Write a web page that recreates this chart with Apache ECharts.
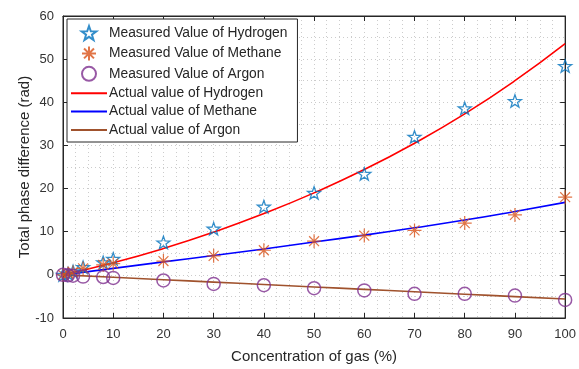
<!DOCTYPE html>
<html>
<head>
<meta charset="utf-8">
<script src="https://cdn.jsdelivr.net/npm/echarts@6/dist/echarts.min.js"></script>
<style>
  html, body { margin: 0; padding: 0; background: #fff; }
  #chart { width: 579px; height: 369px; }
</style>
</head>
<body>
<div id="chart"></div>
<script>
// concentrations where gas was measured (%)
const xMeasured = [0, 1, 2, 4, 8, 10, 20, 30, 40, 50, 60, 70, 80, 90, 100];
const hydrogenMeasured = [0, 0.3, 0.8, 1.8, 2.9, 3.7, 7.5, 10.7, 15.8, 19.0, 23.4, 32.0, 38.6, 40.3, 48.4];
const methaneMeasured = [0, 0.3, 0.6, 1.5, 2.3, 2.6, 3.2, 4.4, 5.7, 7.8, 9.1, 10.3, 12.0, 13.9, 18.0];
const argonMeasured = [0, -0.1, -0.2, -0.4, -0.5, -0.7, -1.3, -2.1, -2.4, -3.1, -3.6, -4.4, -4.4, -4.8, -5.8];

// theoretical curves
const xActual = [0, 10, 20, 30, 40, 50, 60, 70, 80, 90, 100];
const hydrogenActual = [0, 2.8, 6.1, 9.9, 14.2, 19.0, 24.4, 30.5, 37.3, 45.0, 53.6];
const methaneActual = [0, 1.5, 3.0, 4.5, 6.0, 7.6, 9.2, 10.9, 12.7, 14.7, 16.8];
const argonActual = [0, -0.56, -1.12, -1.68, -2.24, -2.8, -3.36, -3.92, -4.48, -5.04, -5.6];

const starPath = 'path://M0,-10L2.35,-3.24L9.51,-3.09L3.8,1.24L5.88,8.09L0,4L-5.88,8.09L-3.8,1.24L-9.51,-3.09L-2.35,-3.24Z';
const asteriskPath = 'path://M0,-10L0,10M-10,0L10,0M-7.1,-7.1L7.1,7.1M-7.1,7.1L7.1,-7.1';
const lineIcon = 'path://M0,0L36,0L36,2L0,2Z';

function pairs(xs, ys) {
    return xs.map((x, i) => [x, ys[i]]);
}

const font = 'Liberation Sans, Arial, sans-serif';
const gridLine = { show: true, lineStyle: { color: '#cccccc', type: [1, 3], width: 1 } };
const boxAxis = {
    axisLine: { show: true, onZero: false, lineStyle: { color: '#262626' } },
    axisTick: { show: true, inside: true, length: 5, lineStyle: { color: '#262626' } },
    axisLabel: { show: false }, splitLine: { show: false }
};

const chart = echarts.init(document.getElementById('chart'));

const option = {
    animation: false,
    grid: {
        left: 63, right: 11, top: 16, bottom: 49,
        show: true, borderColor: '#262626', borderWidth: 1
    },
    legend: {
        orient: 'vertical',
        left: 67, top: 19,
        padding: [6, 10, 5, 4],
        itemWidth: 36, itemHeight: 14, itemGap: 4.4,
        symbolKeepAspect: true,
        backgroundColor: '#fff',
        borderColor: '#262626', borderWidth: 1,
        textStyle: { fontFamily: font, fontSize: 13.8, lineHeight: 14, color: '#262626', padding: [0, 0, 0, -3] },
        data: [
            { name: 'Measured Value of Hydrogen' },
            { name: 'Measured Value of Methane' },
            { name: 'Measured Value of Argon' },
            { name: 'Actual value of Hydrogen', icon: lineIcon },
            { name: 'Actual value of Methane', icon: lineIcon },
            { name: 'Actual value of Argon', icon: lineIcon }
        ]
    },
    xAxis: [
        {
            type: 'value', min: 0, max: 100, interval: 10,
            name: 'Concentration of gas (%)', nameLocation: 'middle', nameGap: 31,
            nameMoveOverlap: false,
            nameTextStyle: { fontFamily: font, fontSize: 15, color: '#262626' },
            axisLine: { show: true, onZero: false, lineStyle: { color: '#262626' } },
            axisTick: { show: true, inside: true, length: 5, lineStyle: { color: '#262626' } },
            axisLabel: { fontFamily: font, fontSize: 13, color: '#333', margin: 10 },
            splitLine: gridLine,
            minorTick: { show: false, splitNumber: 4 },
            minorSplitLine: gridLine
        },
        Object.assign({ type: 'value', min: 0, max: 100, interval: 10, position: 'top' }, boxAxis)
    ],
    yAxis: [
        {
            type: 'value', min: -10, max: 60, interval: 10,
            name: 'Total phase difference (rad)', nameLocation: 'middle', nameGap: 31,
            nameMoveOverlap: false,
            nameTextStyle: { fontFamily: font, fontSize: 15, color: '#262626' },
            axisLine: { show: true, onZero: false, lineStyle: { color: '#262626' } },
            axisTick: { show: true, inside: true, length: 5, lineStyle: { color: '#262626' } },
            axisLabel: { fontFamily: font, fontSize: 13, color: '#333', margin: 9 },
            splitLine: gridLine,
            minorTick: { show: false, splitNumber: 2 },
            minorSplitLine: gridLine
        },
        Object.assign({ type: 'value', min: -10, max: 60, interval: 10, position: 'right' }, boxAxis)
    ],
    series: [
        {
            name: 'Measured Value of Hydrogen', type: 'scatter', clip: false, z: 5,
            symbol: starPath, symbolSize: 13, symbolKeepAspect: true,
            itemStyle: { color: 'rgba(0,0,0,0)', borderColor: '#0072BD', borderWidth: 1.3 },
            data: pairs(xMeasured, hydrogenMeasured)
        },
        {
            name: 'Measured Value of Methane', type: 'scatter', clip: false, z: 5,
            symbol: asteriskPath, symbolSize: 14,
            itemStyle: { color: 'rgba(0,0,0,0)', borderColor: '#D95319', borderWidth: 1.2 },
            data: pairs(xMeasured, methaneMeasured)
        },
        {
            name: 'Measured Value of Argon', type: 'scatter', clip: false, z: 5,
            symbol: 'circle', symbolSize: 13,
            itemStyle: { color: 'rgba(0,0,0,0)', borderColor: '#7E2F8E', borderWidth: 1.5 },
            data: pairs(xMeasured, argonMeasured)
        },
        {
            name: 'Actual value of Hydrogen', type: 'line', smooth: true, symbol: 'none',
            lineStyle: { color: '#FF0000', width: 1.6 }, itemStyle: { color: '#FF0000' },
            data: pairs(xActual, hydrogenActual)
        },
        {
            name: 'Actual value of Methane', type: 'line', smooth: true, symbol: 'none',
            lineStyle: { color: '#0000FF', width: 1.6 }, itemStyle: { color: '#0000FF' },
            data: pairs(xActual, methaneActual)
        },
        {
            name: 'Actual value of Argon', type: 'line', smooth: true, symbol: 'none',
            lineStyle: { color: '#A0522D', width: 1.6 }, itemStyle: { color: '#A0522D' },
            data: pairs(xActual, argonActual)
        }
    ]
};

chart.setOption(option);
</script>
</body>
</html>
